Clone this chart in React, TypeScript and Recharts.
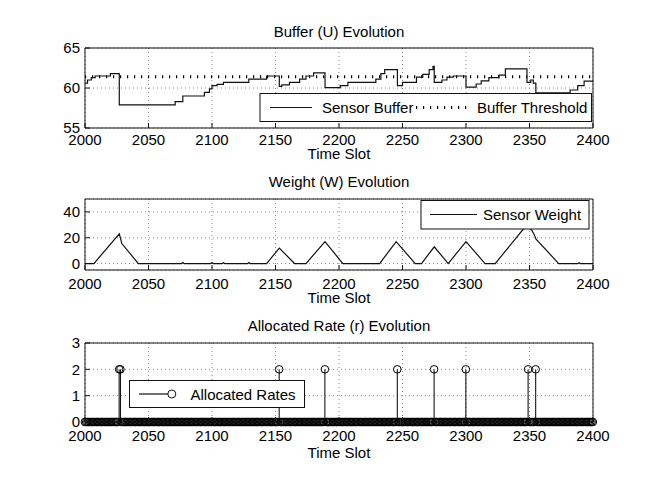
import React from 'react';
import { ComposedChart, Line, Bar, XAxis, YAxis, CartesianGrid, ReferenceLine } from 'recharts';

const W = 654;
const H = 491;
const FONT = '"Liberation Sans", Arial, Helvetica, sans-serif';
const INK = '#111';

const SLOT_TICKS = [2000, 2050, 2100, 2150, 2200, 2250, 2300, 2350, 2400];
const SLOT_FIRST = 2000;
const SLOT_LAST = 2400;

// buffer (U), drawn as steps
const BUFFER_SLOTS = [
  2000, 2002, 2005, 2008, 2020, 2027, 2071, 2077, 2094, 2098, 2100, 2104, 2109, 2129, 2143, 2153, 2155,
  2161, 2169, 2174, 2180, 2189, 2201, 2207, 2229, 2233, 2236, 2246, 2250, 2261, 2266, 2271, 2274, 2275,
  2281, 2285, 2290, 2300, 2308, 2312, 2318, 2326, 2331, 2348, 2351, 2353, 2355, 2382, 2388, 2393, 2400,
];
const BUFFER_VALUES = [
  60.6, 61.0, 61.3, 61.5, 61.8, 57.9, 58.3, 59.0, 59.45, 59.9, 60.3, 60.45, 60.7, 61.1, 61.5, 60.2, 60.4,
  60.7, 61.1, 61.5, 61.9, 60.05, 60.3, 60.7, 61.1, 61.8, 62.3, 60.3, 60.7, 61.35, 61.7, 62.3, 62.7, 60.7,
  61.0, 61.35, 61.5, 60.1, 60.5, 60.9, 61.3, 61.6, 62.4, 60.7, 61.0, 60.6, 59.4, 59.75, 60.3, 60.85, 60.85,
];
const BUFFER_THRESHOLD = 61.4;

// weight (W)
const WEIGHT_SLOTS = [
  2000, 2007, 2027, 2029, 2042, 2076, 2077, 2078, 2099, 2100, 2101, 2108, 2109, 2110, 2128, 2129, 2130,
  2143, 2153, 2165, 2174, 2189, 2203, 2232, 2245, 2260, 2265, 2275, 2286, 2300, 2315, 2323, 2345, 2347,
  2350, 2352, 2354, 2355, 2373, 2388, 2389, 2390, 2400,
];
const WEIGHT_VALUES = [
  0, 0, 23, 15.5, 0, 0, 0.8, 0, 0, 0.8, 0, 0, 0.6, 0, 0, 0.8, 0,
  0, 12, 0, 0, 17, 0, 0, 17, 0, 0, 13, 0, 17, 0, 0, 26.5, 27.5,
  27.5, 25.5, 21.8, 19, 0, 0, 0.6, 0, 0,
];

// allocated rate (r): every other slot is 0
const RATE_SLOTS = [2027, 2028, 2153, 2189, 2246, 2275, 2300, 2349, 2355];
const RATE_VALUES = [2, 2, 2, 2, 2, 2, 2, 2, 2];

const bufferData = BUFFER_SLOTS.map((slot, i) => ({ slot, buffer: BUFFER_VALUES[i] }));
const weightData = WEIGHT_SLOTS.map((slot, i) => ({ slot, weight: WEIGHT_VALUES[i] }));
const rateData: { slot: number; rate: number }[] = [];
for (let slot = SLOT_FIRST; slot <= SLOT_LAST; slot++) {
  const k = RATE_SLOTS.indexOf(slot);
  rateData.push({ slot, rate: k >= 0 ? RATE_VALUES[k] : 0 });
}

// plot boxes in page pixels
const BOX_LEFT = 85;
const BOX_RIGHT = 593;
const BUFFER_BOX = { top: 48, bottom: 128 };
const WEIGHT_BOX = { top: 199, bottom: 270 };
const RATE_BOX = { top: 343, bottom: 422 };

const chartMargin = (box: { top: number; bottom: number }) => ({
  top: box.top - 5,
  bottom: H - box.bottom - 25,
  left: BOX_LEFT - 30,
  right: W - BOX_RIGHT - 5,
});

function frameAxes(domain: [number, number], ticks: number[], xLabelGap: number) {
  const tickFont = { fontSize: 15, fill: '#000', fontFamily: FONT };
  const line = { stroke: INK, strokeWidth: 1 };
  return [
    <CartesianGrid key="grid" xAxisId="b" yAxisId="l" stroke="#8a8a8a" strokeDasharray="1 3" />,
    <XAxis
      key="xb"
      xAxisId="b"
      type="number"
      dataKey="slot"
      domain={[SLOT_FIRST, SLOT_LAST]}
      ticks={SLOT_TICKS}
      interval={0}
      height={25}
      tickSize={-5}
      tickMargin={xLabelGap}
      tick={tickFont}
      axisLine={line}
      tickLine={line}
    />,
    <XAxis
      key="xt"
      xAxisId="t"
      orientation="top"
      type="number"
      dataKey="slot"
      domain={[SLOT_FIRST, SLOT_LAST]}
      ticks={SLOT_TICKS}
      interval={0}
      height={5}
      tickSize={-5}
      tick={false}
      axisLine={line}
      tickLine={line}
    />,
    <YAxis
      key="yl"
      yAxisId="l"
      type="number"
      domain={domain}
      ticks={ticks}
      interval={0}
      width={30}
      tickSize={-5}
      tickMargin={10}
      tick={tickFont}
      axisLine={line}
      tickLine={line}
    />,
    <YAxis
      key="yr"
      yAxisId="r"
      orientation="right"
      type="number"
      domain={domain}
      ticks={ticks}
      interval={0}
      width={5}
      tickSize={-5}
      tick={false}
      axisLine={line}
      tickLine={line}
    />,
  ];
}

const Stem = (props: any) => {
  const { x, y, width, height } = props;
  const cx = x + width / 2;
  return (
    <g>
      {height > 0 && <line x1={cx} x2={cx} y1={y} y2={y + height} stroke="#000" strokeWidth={1} />}
      <circle cx={cx} cy={y} r={3.8} fill="none" stroke="#000" strokeWidth={1} />
    </g>
  );
};

const layer: React.CSSProperties = { position: 'absolute', left: 0, top: 0 };

export default function App() {
  const mid = (BOX_LEFT + BOX_RIGHT) / 2;
  const txt = { fontFamily: FONT, fontSize: 15, fill: '#000' };
  return (
    <div style={{ position: 'absolute', left: 0, top: 0, width: W, height: H, background: '#fff' }}>
      <div style={layer}>
        <ComposedChart width={W} height={H} data={bufferData} margin={chartMargin(BUFFER_BOX)}>
          {frameAxes([55, 65], [55, 60, 65], 11)}
          <ReferenceLine
            xAxisId="b"
            yAxisId="l"
            y={BUFFER_THRESHOLD}
            stroke="#000"
            strokeWidth={3}
            strokeDasharray="1.2 5.8"
          />
          <Line
            xAxisId="b"
            yAxisId="l"
            type="stepAfter"
            dataKey="buffer"
            stroke={INK}
            strokeWidth={1.2}
            dot={false}
            isAnimationActive={false}
          />
        </ComposedChart>
      </div>
      <div style={layer}>
        <ComposedChart width={W} height={H} data={weightData} margin={chartMargin(WEIGHT_BOX)}>
          {frameAxes([-5, 50], [0, 20, 40], 13)}
          <Line
            xAxisId="b"
            yAxisId="l"
            type="linear"
            dataKey="weight"
            stroke={INK}
            strokeWidth={1.2}
            dot={false}
            isAnimationActive={false}
          />
        </ComposedChart>
      </div>
      <div style={layer}>
        <ComposedChart width={W} height={H} data={rateData} margin={chartMargin(RATE_BOX)}>
          {frameAxes([0, 3], [0, 1, 2, 3], 13)}
          <Bar
            xAxisId="b"
            yAxisId="l"
            dataKey="rate"
            barSize={1}
            shape={Stem}
            isAnimationActive={false}
          />
        </ComposedChart>
      </div>
      <svg width={W} height={H} style={{ ...layer, pointerEvents: 'none' }}>
        <text x={mid} y={36.5} textAnchor="middle" {...txt}>Buffer (U) Evolution</text>
        <text x={mid} y={159} textAnchor="middle" {...txt}>Time Slot</text>
        <text x={mid} y={187} textAnchor="middle" {...txt}>Weight (W) Evolution</text>
        <text x={mid} y={303} textAnchor="middle" {...txt}>Time Slot</text>
        <text x={mid} y={331} textAnchor="middle" {...txt}>Allocated Rate (r) Evolution</text>
        <text x={mid} y={458} textAnchor="middle" {...txt}>Time Slot</text>

        <rect x={260} y={93.5} width={331.5} height={28} fill="#fff" stroke={INK} />
        <line x1={270} x2={312} y1={107.5} y2={107.5} stroke={INK} strokeWidth={1.2} />
        <text x={322} y={113} {...txt}>Sensor Buffer</text>
        <line x1={416} x2={468} y1={107.5} y2={107.5} stroke="#000" strokeWidth={3} strokeDasharray="1.2 5.8" />
        <text x={477} y={113} {...txt}>Buffer Threshold</text>

        <rect x={421} y={200.5} width={168} height={28.5} fill="#fff" stroke={INK} />
        <line x1={430} x2={477} y1={214.5} y2={214.5} stroke={INK} strokeWidth={1.2} />
        <text x={483} y={220} {...txt}>Sensor Weight</text>

        <rect x={129.5} y={380.5} width={175} height={27} fill="#fff" stroke={INK} />
        <line x1={139} x2={168} y1={394} y2={394} stroke={INK} strokeWidth={1.2} />
        <circle cx={171.8} cy={394} r={4} fill="none" stroke={INK} />
        <text x={190.5} y={400} {...txt}>Allocated Rates</text>
      </svg>
    </div>
  );
}
